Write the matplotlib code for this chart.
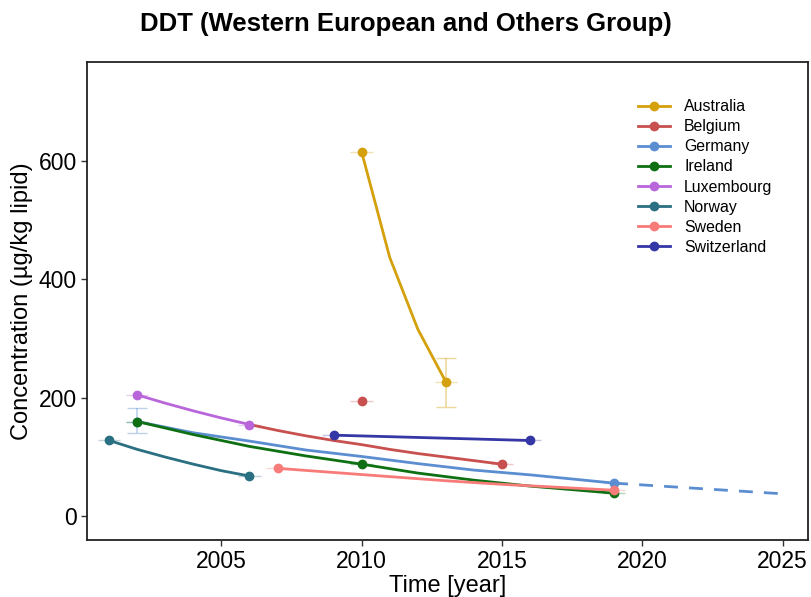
import numpy as np
import matplotlib.pyplot as plt

plt.rcParams['font.family'] = ['Liberation Sans', 'DejaVu Sans']

countries = ['Australia', 'Belgium', 'Germany', 'Ireland', 'Luxembourg', 'Norway', 'Sweden', 'Switzerland']
colors = ['#D4A00C', '#C8504E', '#5B8ED0', '#0E7012', '#B866DA', '#2B6F82', '#F77B78', '#3537A6']

line_x = {
    'Australia': [2010, 2011, 2012, 2013],
    'Belgium': [2006, 2007, 2008, 2009, 2010, 2011, 2012, 2013, 2014, 2015],
    'Germany': [2002, 2004, 2006, 2008, 2010, 2012, 2014, 2016, 2019],
    'Ireland': [2002, 2004, 2006, 2008, 2010, 2012, 2014, 2016, 2017.5, 2019],
    'Luxembourg': [2002, 2003, 2004, 2005, 2006],
    'Norway': [2001, 2002, 2003, 2004, 2005, 2006],
    'Sweden': [2007, 2009, 2011, 2013, 2015, 2017, 2019],
    'Switzerland': [2009, 2016],
}
line_y = {
    'Australia': [615, 437, 316, 227],
    'Belgium': [155, 145, 136, 128, 121, 113, 106, 100, 94, 88],
    'Germany': [160, 141, 127, 112, 101, 89, 78, 70, 56],
    'Ireland': [160, 138, 118, 102, 88, 73, 61, 51, 45, 39],
    'Luxembourg': [205, 191, 178, 166, 155],
    'Norway': [128, 113, 100, 88, 77, 68],
    'Sweden': [81, 74, 67, 60, 54, 49, 44],
    'Switzerland': [137, 128],
}
pt_x = {
    'Australia': [2010, 2013],
    'Belgium': [2010, 2015],
    'Germany': [2002, 2019],
    'Ireland': [2002, 2010, 2019],
    'Luxembourg': [2002, 2006],
    'Norway': [2001, 2006],
    'Sweden': [2007, 2019],
    'Switzerland': [2009, 2016],
}
pt_y = {
    'Australia': [615, 227],
    'Belgium': [195, 88],
    'Germany': [160, 56],
    'Ireland': [160, 88, 39],
    'Luxembourg': [205, 155],
    'Norway': [128, 68],
    'Sweden': [81, 44],
    'Switzerland': [137, 128],
}
# error bars (lower, upper)
err_country = ['Australia', 'Germany']
err_x = [2013, 2002]
err_lo = [184, 140]
err_hi = [268, 183]

# Germany projection
proj_x = [2019, 2022, 2025]
proj_y = [56, 47, 38]

fig = plt.figure(figsize=(8.11, 5.97), dpi=100)
ax = fig.add_axes([0.107, 0.0955, 0.889, 0.8005])

for c, col in zip(countries, colors):
    ax.plot(line_x[c], line_y[c], color=col, lw=2, zorder=2)
    ax.errorbar(pt_x[c], pt_y[c], xerr=0.4, fmt='none', ecolor=col, alpha=0.3, lw=1, zorder=1)
    ax.plot(pt_x[c], pt_y[c], 'o', color=col, ms=6, zorder=3)
    ax.plot([], [], '-o', color=col, lw=2, ms=6, label=c)

for c, x, lo, hi in zip(err_country, err_x, err_lo, err_hi):
    col = colors[countries.index(c)]
    mid = (lo + hi) / 2
    ax.errorbar([x], [mid], yerr=[[mid - lo], [hi - mid]], fmt='none', ecolor=col,
                alpha=0.4, lw=1.2, capsize=7, zorder=1)

ax.plot(proj_x, proj_y, '--', color=colors[2], lw=2, dashes=(5, 4), zorder=2)

ax.set_xlim(2000.2, 2025.9)
ax.set_ylim(-40, 767)
ax.set_xticks([2005, 2010, 2015, 2020, 2025])
ax.set_yticks([0, 200, 400, 600])
ax.tick_params(labelsize=16.5, length=4, width=1, color='#333333', labelcolor='black', pad=3)
for s in ax.spines.values():
    s.set_linewidth(1.3)
    s.set_color('#222222')

ax.set_xlabel('Time [year]', fontsize=17, labelpad=2)
ax.set_ylabel('Concentration (µg/kg lipid)', fontsize=17, labelpad=4)
fig.suptitle('DDT (Western European and Others Group)', fontsize=18.5, fontweight='bold', y=0.98)

ax.legend(loc='upper left', bbox_to_anchor=(0.745, 0.952), frameon=False, fontsize=11.4,
          handlelength=2.0, labelspacing=0.32, handletextpad=0.9)

fig.savefig('out.png', dpi=100)
